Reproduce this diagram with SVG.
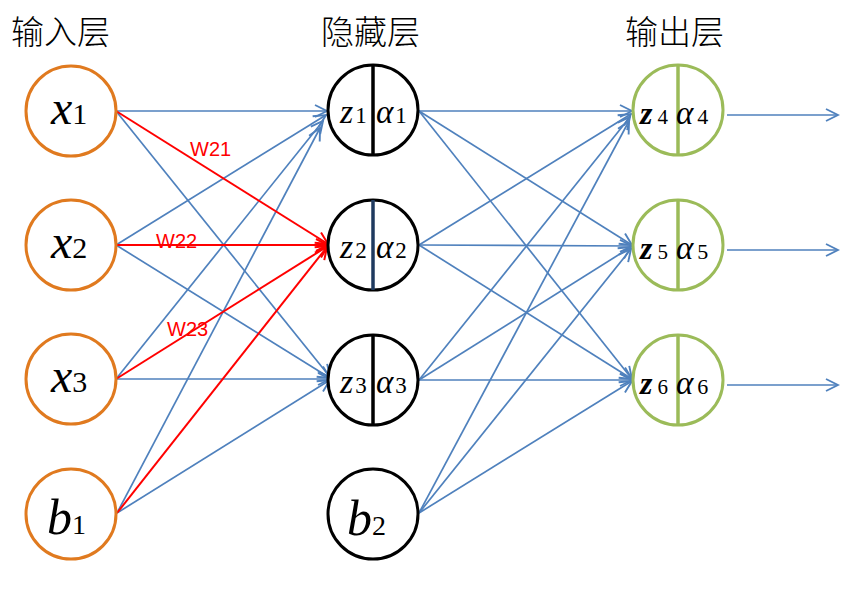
<svg xmlns="http://www.w3.org/2000/svg" width="860" height="590" viewBox="0 0 860 590">
<defs>
<marker id="ab" markerUnits="userSpaceOnUse" markerWidth="16" markerHeight="16" viewBox="0 0 16 16" refX="14" refY="8" orient="auto"><path d="M2,2 L14,8 L2,14" fill="none" stroke="#4F81BD" stroke-width="1.9"/></marker>
<marker id="ar" markerUnits="userSpaceOnUse" markerWidth="16" markerHeight="16" viewBox="0 0 16 16" refX="14" refY="8" orient="auto"><path d="M2,2 L14,8 L2,14" fill="none" stroke="#FF0000" stroke-width="2"/></marker>
</defs>
<style>
.hdr{font-family:"Noto Sans CJK SC",sans-serif;font-size:33px;font-weight:300;fill:#000}
.in{fill:#fff;stroke:#E07A1F;stroke-width:3}
.hid{fill:#fff;stroke:#000;stroke-width:3}
.out{fill:#fff;stroke:#9BBB59;stroke-width:3}
.div{stroke-width:3.5}
.t{font-family:"Liberation Serif",serif;fill:#000}
.it{font-style:italic}
.b{stroke:#4F81BD;stroke-width:1.7;fill:none;marker-end:url(#ab)}
.r{stroke:#FF0000;stroke-width:2;fill:none;marker-end:url(#ar)}
.wl{font-family:"Liberation Sans",sans-serif;font-size:20px;fill:#FF0000}
</style>
<rect width="860" height="590" fill="#fff"/>
<text class="hdr" x="11" y="44">输入层</text>
<text class="hdr" x="321" y="44">隐藏层</text>
<text class="hdr" x="625" y="44">输出层</text>

<g id="connectors">
<line class="b" x1="116" y1="111" x2="327" y2="111"/>
<line class="b" x1="116" y1="111" x2="330" y2="377"/>
<line class="b" x1="116" y1="245" x2="326" y2="115"/>
<line class="b" x1="116" y1="245" x2="330" y2="378"/>
<line class="b" x1="116" y1="379" x2="323" y2="121"/>
<line class="b" x1="116" y1="379" x2="330" y2="379"/>
<line class="b" x1="117" y1="513" x2="320" y2="128"/>
<line class="b" x1="117" y1="513" x2="330" y2="380"/>
<line class="r" x1="116" y1="111" x2="328" y2="244"/>
<line class="r" x1="116" y1="245" x2="328" y2="245"/>
<line class="r" x1="116" y1="379" x2="328" y2="246"/>
<line class="r" x1="117" y1="513" x2="327" y2="247"/>

<line class="b" x1="419" y1="111" x2="632" y2="111"/>
<line class="b" x1="419" y1="111" x2="632" y2="245"/>
<line class="b" x1="419" y1="111" x2="632" y2="379"/>
<line class="b" x1="419" y1="245" x2="631" y2="114"/>
<line class="b" x1="419" y1="245" x2="632" y2="246"/>
<line class="b" x1="419" y1="245" x2="632" y2="379"/>
<line class="b" x1="419" y1="380" x2="630" y2="117"/>
<line class="b" x1="419" y1="380" x2="631" y2="247"/>
<line class="b" x1="419" y1="380" x2="632" y2="380"/>
<line class="b" x1="419" y1="513" x2="629" y2="121"/>
<line class="b" x1="419" y1="513" x2="631" y2="249"/>
<line class="b" x1="419" y1="513" x2="632" y2="381"/>

<line class="b" x1="727" y1="115" x2="838" y2="115"/>
<line class="b" x1="727" y1="250" x2="838" y2="250"/>
<line class="b" x1="727" y1="385" x2="838" y2="385"/>
</g>

<text class="wl" x="190" y="156">W21</text>
<text class="wl" x="156" y="248">W22</text>
<text class="wl" x="167" y="336">W23</text>

<g id="x1"><circle class="in" cx="71" cy="111" r="45"/><text class="t" x="51" y="124"><tspan class="it" font-size="48">x</tspan><tspan font-size="30">1</tspan></text></g>
<g id="x2"><circle class="in" cx="71" cy="245" r="45"/><text class="t" x="51" y="258"><tspan class="it" font-size="48">x</tspan><tspan font-size="30">2</tspan></text></g>
<g id="x3"><circle class="in" cx="71" cy="379" r="45"/><text class="t" x="51" y="392"><tspan class="it" font-size="48">x</tspan><tspan font-size="30">3</tspan></text></g>
<g id="b1"><circle class="in" cx="71" cy="514" r="45"/><text class="t" x="47" y="534"><tspan class="it" font-size="50">b</tspan><tspan font-size="28">1</tspan></text></g>

<g id="h1"><circle class="hid" cx="373" cy="110" r="45"/><line class="div" x1="373" y1="65" x2="373" y2="155" stroke="#000"/><text class="t" x="340" y="123"><tspan class="it" font-size="34">z</tspan><tspan font-size="23" dx="2">1</tspan><tspan class="it" font-size="33" x="376">α</tspan><tspan font-size="23" dx="2">1</tspan></text></g>
<g id="h2"><circle class="hid" cx="373" cy="245" r="45" stroke="#1F3A5F"/><line class="div" x1="373" y1="200" x2="373" y2="290" stroke="#1F3A5F"/><text class="t" x="340" y="258"><tspan class="it" font-size="34">z</tspan><tspan font-size="23" dx="2">2</tspan><tspan class="it" font-size="33" x="376">α</tspan><tspan font-size="23" dx="2">2</tspan></text></g>
<g id="h3"><circle class="hid" cx="373" cy="380" r="45"/><line class="div" x1="373" y1="335" x2="373" y2="425" stroke="#000"/><text class="t" x="340" y="393"><tspan class="it" font-size="34">z</tspan><tspan font-size="23" dx="2">3</tspan><tspan class="it" font-size="33" x="376">α</tspan><tspan font-size="23" dx="2">3</tspan></text></g>
<g id="b2"><circle class="hid" cx="373" cy="514" r="45"/><text class="t" x="347" y="535"><tspan class="it" font-size="50">b</tspan><tspan font-size="28">2</tspan></text></g>

<g id="o4"><circle class="out" cx="678" cy="110" r="45"/><line class="div" x1="678" y1="65" x2="678" y2="155" stroke="#9BBB59"/><text class="t" x="640" y="124"><tspan class="it" font-size="32" font-weight="bold">z</tspan><tspan font-size="21" dx="5">4</tspan><tspan class="it" font-size="33" x="676">α</tspan><tspan font-size="22" dx="4">4</tspan></text></g>
<g id="o5"><circle class="out" cx="678" cy="245" r="45"/><line class="div" x1="678" y1="200" x2="678" y2="290" stroke="#9BBB59"/><text class="t" x="640" y="259"><tspan class="it" font-size="32" font-weight="bold">z</tspan><tspan font-size="21" dx="5">5</tspan><tspan class="it" font-size="33" x="676">α</tspan><tspan font-size="22" dx="4">5</tspan></text></g>
<g id="o6"><circle class="out" cx="678" cy="380" r="45"/><line class="div" x1="678" y1="335" x2="678" y2="425" stroke="#9BBB59"/><text class="t" x="640" y="394"><tspan class="it" font-size="32" font-weight="bold">z</tspan><tspan font-size="21" dx="5">6</tspan><tspan class="it" font-size="33" x="676">α</tspan><tspan font-size="22" dx="4">6</tspan></text></g>
</svg>
